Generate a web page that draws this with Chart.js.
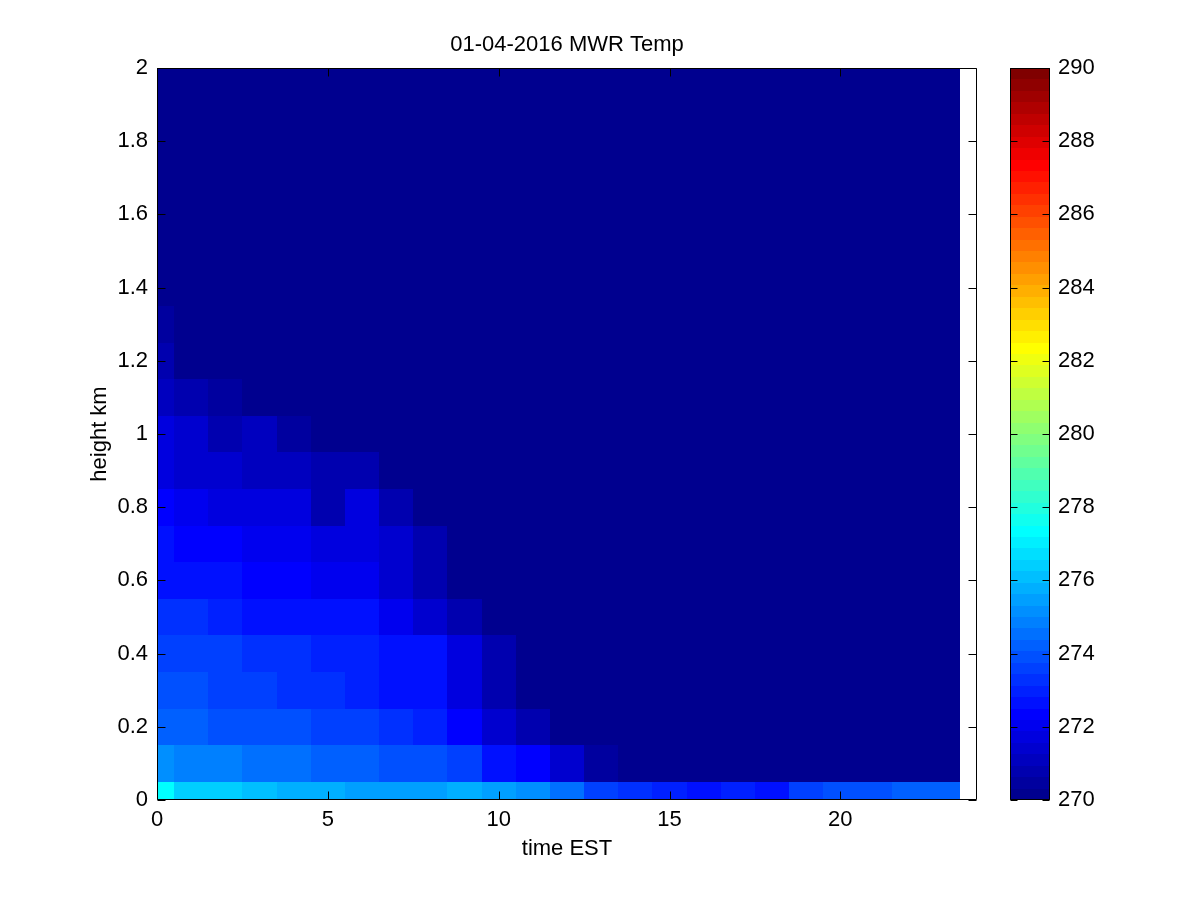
<!DOCTYPE html>
<html>
<head>
<meta charset="utf-8">
<script src="https://cdn.jsdelivr.net/npm/chart.js@4.4.0/dist/chart.umd.min.js"></script>
<style>
  body { margin: 0; background: #fff; }
  #wrap { position: relative; width: 1200px; height: 900px; }
  #main { position: absolute; left: 0; top: 0; }
  #cbar { position: absolute; left: 1000px; top: 0; }
</style>
</head>
<body>
<div id="wrap">
  <canvas id="main" width="1000" height="900"></canvas>
  <canvas id="cbar" width="200" height="900"></canvas>
</div>
<script>
// hour of day (EST), cell centres
const times = [0, 1, 2, 3, 4, 5, 6, 7, 8, 9, 10, 11, 12, 13, 14, 15, 16, 17, 18, 19, 20, 21, 22, 23];
// height above ground (km), cell centres
const heights = [0, 0.1, 0.2, 0.3, 0.4, 0.5, 0.6, 0.7, 0.8, 0.9, 1.0,
                 1.1, 1.2, 1.3, 1.4, 1.5, 1.6, 1.7, 1.8, 1.9, 2.0];
// temperature (K), one row per height, one column per hour
const temps = [
  [277.3, 276.5, 276.4, 276.1, 275.9, 275.7, 275.5, 275.4, 275.5, 275.9, 275.4, 275.0, 274.5, 273.6, 273.4, 273.0, 272.7, 273.0, 272.7, 273.7, 273.9, 274.0, 274.1, 274.2],
  [275.0, 274.9, 274.7, 274.6, 274.5, 274.3, 274.3, 273.9, 273.8, 273.6, 272.8, 272.2, 271.5, 270.5, 269.8, 269.8, 269.8, 269.8, 269.8, 269.8, 269.8, 269.8, 269.8, 269.8],
  [274.1, 274.1, 273.9, 273.8, 273.8, 273.7, 273.5, 273.2, 272.9, 272.3, 271.5, 270.7, 269.6, 269.6, 269.6, 269.6, 269.6, 269.6, 269.6, 269.6, 269.6, 269.6, 269.6, 269.6],
  [273.8, 273.8, 273.7, 273.5, 273.3, 273.3, 273.1, 272.8, 272.5, 271.8, 270.8, 270.2, 269.4, 269.4, 269.4, 269.4, 269.4, 269.4, 269.4, 269.4, 269.4, 269.4, 269.4, 269.4],
  [273.7, 273.6, 273.6, 273.4, 273.4, 273.1, 273.1, 272.7, 272.5, 271.7, 270.7, 269.2, 269.2, 269.2, 269.2, 269.2, 269.2, 269.2, 269.2, 269.2, 269.2, 269.2, 269.2, 269.2],
  [273.3, 273.3, 273.0, 272.7, 272.7, 272.7, 272.5, 272.1, 271.5, 270.7, 270.1, 269.0, 269.0, 269.0, 269.0, 269.0, 269.0, 269.0, 269.0, 269.0, 269.0, 269.0, 269.0, 269.0],
  [272.7, 272.6, 272.5, 272.4, 272.2, 272.1, 271.9, 271.3, 270.9, 268.8, 268.8, 268.8, 268.8, 268.8, 268.8, 268.8, 268.8, 268.8, 268.8, 268.8, 268.8, 268.8, 268.8, 268.8],
  [272.5, 272.2, 272.2, 272.1, 271.9, 271.8, 271.7, 271.3, 270.8, 268.6, 268.6, 268.6, 268.6, 268.6, 268.6, 268.6, 268.6, 268.6, 268.6, 268.6, 268.6, 268.6, 268.6, 268.6],
  [272.2, 271.9, 271.8, 271.8, 271.7, 270.8, 271.6, 270.8, 270.2, 268.4, 268.4, 268.4, 268.4, 268.4, 268.4, 268.4, 268.4, 268.4, 268.4, 268.4, 268.4, 268.4, 268.4, 268.4],
  [271.7, 271.5, 271.4, 271.1, 271.1, 270.7, 270.7, 270.2, 268.1, 268.1, 268.1, 268.1, 268.1, 268.1, 268.1, 268.1, 268.1, 268.1, 268.1, 268.1, 268.1, 268.1, 268.1, 268.1],
  [271.7, 271.5, 270.9, 271.0, 270.6, 267.8, 267.8, 267.8, 267.8, 267.8, 267.8, 267.8, 267.8, 267.8, 267.8, 267.8, 267.8, 267.8, 267.8, 267.8, 267.8, 267.8, 267.8, 267.8],
  [271.2, 270.7, 270.6, 267.5, 267.5, 267.5, 267.5, 267.5, 267.5, 267.5, 267.5, 267.5, 267.5, 267.5, 267.5, 267.5, 267.5, 267.5, 267.5, 267.5, 267.5, 267.5, 267.5, 267.5],
  [270.7, 270.3, 270.3, 267.2, 267.2, 267.2, 267.2, 267.2, 267.2, 267.2, 267.2, 267.2, 267.2, 267.2, 267.2, 267.2, 267.2, 267.2, 267.2, 267.2, 267.2, 267.2, 267.2, 267.2],
  [270.4, 266.9, 266.9, 266.9, 266.9, 266.9, 266.9, 266.9, 266.9, 266.9, 266.9, 266.9, 266.9, 266.9, 266.9, 266.9, 266.9, 266.9, 266.9, 266.9, 266.9, 266.9, 266.9, 266.9],
  [266.5, 266.5, 266.5, 266.5, 266.5, 266.5, 266.5, 266.5, 266.5, 266.5, 266.5, 266.5, 266.5, 266.5, 266.5, 266.5, 266.5, 266.5, 266.5, 266.5, 266.5, 266.5, 266.5, 266.5],
  [266.1, 266.1, 266.1, 266.1, 266.1, 266.1, 266.1, 266.1, 266.1, 266.1, 266.1, 266.1, 266.1, 266.1, 266.1, 266.1, 266.1, 266.1, 266.1, 266.1, 266.1, 266.1, 266.1, 266.1],
  [265.7, 265.7, 265.7, 265.7, 265.7, 265.7, 265.7, 265.7, 265.7, 265.7, 265.7, 265.7, 265.7, 265.7, 265.7, 265.7, 265.7, 265.7, 265.7, 265.7, 265.7, 265.7, 265.7, 265.7],
  [265.3, 265.3, 265.3, 265.3, 265.3, 265.3, 265.3, 265.3, 265.3, 265.3, 265.3, 265.3, 265.3, 265.3, 265.3, 265.3, 265.3, 265.3, 265.3, 265.3, 265.3, 265.3, 265.3, 265.3],
  [264.9, 264.9, 264.9, 264.9, 264.9, 264.9, 264.9, 264.9, 264.9, 264.9, 264.9, 264.9, 264.9, 264.9, 264.9, 264.9, 264.9, 264.9, 264.9, 264.9, 264.9, 264.9, 264.9, 264.9],
  [264.5, 264.5, 264.5, 264.5, 264.5, 264.5, 264.5, 264.5, 264.5, 264.5, 264.5, 264.5, 264.5, 264.5, 264.5, 264.5, 264.5, 264.5, 264.5, 264.5, 264.5, 264.5, 264.5, 264.5],
  [264.1, 264.1, 264.1, 264.1, 264.1, 264.1, 264.1, 264.1, 264.1, 264.1, 264.1, 264.1, 264.1, 264.1, 264.1, 264.1, 264.1, 264.1, 264.1, 264.1, 264.1, 264.1, 264.1, 264.1]
];
const colorLimits = [270, 290];
const nColors = 64;

const FONT = { family: "'Liberation Sans', Arial, sans-serif", size: 22, weight: 'normal' };

// MATLAB jet(64), index 1..64
function jetRGB(i) {
  let r, g, b;
  if (i <= 8) { r = 0; g = 0; b = (i + 8) / 16; }
  else if (i <= 24) { r = 0; g = (i - 8) / 16; b = 1; }
  else if (i <= 40) { r = (i - 24) / 16; g = 1; b = 1 - (i - 24) / 16; }
  else if (i <= 56) { r = 1; g = 1 - (i - 40) / 16; b = 0; }
  else { r = 1 - (i - 56) / 16; g = 0; b = 0; }
  return `rgb(${Math.round(r * 255)},${Math.round(g * 255)},${Math.round(b * 255)})`;
}
function colorFor(v) {
  const [lo, hi] = colorLimits;
  let i = Math.floor((v - lo) / (hi - lo) * nColors) + 1;
  return jetRGB(Math.min(nColors, Math.max(1, i)));
}

const cells = heights.flatMap((h, j) => times.map((t, i) => ({ x: t, y: h, v: temps[j][i] })));

// pcolor-like cells, edges half way between centres
const heatmap = {
  id: 'heatmap',
  beforeDatasetsDraw(chart) {
    const { ctx, scales: { x, y } } = chart;
    const dt = (times[1] - times[0]) / 2, dh = (heights[1] - heights[0]) / 2;
    const tMin = times[0], hMin = heights[0], hMax = heights[heights.length - 1];
    ctx.save();
    chart.data.datasets[0].data.forEach(c => {
      const x0 = Math.round(x.getPixelForValue(Math.max(c.x - dt, tMin)));
      const x1 = Math.round(x.getPixelForValue(c.x + dt));
      const y0 = Math.round(y.getPixelForValue(Math.max(c.y - dh, hMin)));
      const y1 = Math.round(y.getPixelForValue(Math.min(c.y + dh, hMax)));
      ctx.fillStyle = colorFor(c.v);
      ctx.fillRect(x0, y1, x1 - x0, y0 - y1);
    });
    ctx.restore();
  }
};

// colour bar bands
const colorBands = {
  id: 'colorBands',
  beforeDatasetsDraw(chart) {
    const { ctx, chartArea: a, scales: { y } } = chart;
    const [lo, hi] = colorLimits;
    const step = (hi - lo) / nColors;
    ctx.save();
    for (let k = 1; k <= nColors; k++) {
      const y0 = Math.round(y.getPixelForValue(lo + (k - 1) * step));
      const y1 = Math.round(y.getPixelForValue(lo + k * step));
      ctx.fillStyle = jetRGB(k);
      ctx.fillRect(a.left, y1, a.right - a.left, y0 - y1);
    }
    ctx.restore();
  }
};

// boxed axes with inward ticks, MATLAB style
const boxAxes = {
  id: 'boxAxes',
  afterDraw(chart, args, opts) {
    const { ctx, chartArea: a, scales } = chart;
    const L = Math.round(a.left) + 0.5, R = Math.round(a.right) - 0.5;
    const T = Math.round(a.top) + 0.5, B = Math.round(a.bottom) - 0.5;
    const len = opts.len;
    ctx.save();
    ctx.strokeStyle = '#000';
    ctx.lineWidth = 1;
    ctx.beginPath();
    if (opts.x) {
      scales.x.ticks.forEach(t => {
        const px = Math.round(scales.x.getPixelForValue(t.value)) + 0.5;
        ctx.moveTo(px, B); ctx.lineTo(px, B - len);
        ctx.moveTo(px, T); ctx.lineTo(px, T + len);
      });
    }
    scales.y.ticks.forEach(t => {
      const py = Math.round(scales.y.getPixelForValue(t.value)) + 0.5;
      ctx.moveTo(L, py); ctx.lineTo(L + len, py);
      ctx.moveTo(R, py); ctx.lineTo(R - len, py);
    });
    ctx.rect(L, T, R - L, B - T);
    ctx.stroke();
    ctx.restore();
  }
};

const noGrid = { display: false, drawTicks: false };

new Chart(document.getElementById('main'), {
  type: 'scatter',
  data: { datasets: [{ data: cells, pointRadius: 0, pointHoverRadius: 0 }] },
  options: {
    responsive: false,
    animation: false,
    events: [],
    layout: { padding: { left: 0, right: 23, top: 0, bottom: 0 } },
    plugins: {
      legend: { display: false },
      tooltip: { enabled: false },
      title: {
        display: true, fullSize: false, text: '01-04-2016 MWR Temp', color: '#000', font: FONT,
        padding: { top: 31.8, bottom: 9.8 }
      },
      boxAxes: { len: 8, x: true }
    },
    scales: {
      x: {
        type: 'linear', min: 0, max: 24,
        grid: noGrid, border: { display: false },
        ticks: { stepSize: 5, includeBounds: false, color: '#000', font: FONT, padding: 7, maxRotation: 0 },
        title: { display: true, text: 'time EST', color: '#000', font: FONT, padding: { top: 0, bottom: 37.8 } },
        afterFit: s => { s.height = 100; }
      },
      y: {
        type: 'linear', min: 0, max: 2,
        grid: noGrid, border: { display: false },
        ticks: { stepSize: 0.2, color: '#000', font: FONT, padding: 9, callback: v => String(+v.toFixed(1)) },
        title: { display: true, text: 'height km', color: '#000', font: FONT, padding: { top: 87, bottom: 0 } },
        afterFit: s => { s.width = 157; }
      }
    }
  },
  plugins: [heatmap, boxAxes]
});

new Chart(document.getElementById('cbar'), {
  type: 'scatter',
  data: { datasets: [{ data: [], pointRadius: 0 }] },
  options: {
    responsive: false,
    animation: false,
    events: [],
    layout: { padding: { left: 10, right: 0, top: 68, bottom: 100 } },
    plugins: { legend: { display: false }, tooltip: { enabled: false }, boxAxes: { len: 7, x: false } },
    scales: {
      x: { type: 'linear', display: false, min: 0, max: 1 },
      y: {
        type: 'linear', position: 'right', min: colorLimits[0], max: colorLimits[1],
        grid: noGrid, border: { display: false },
        ticks: { stepSize: 2, color: '#000', font: FONT, padding: 8 },
        afterFit: s => { s.width = 150; s.paddingTop = 0; s.paddingBottom = 0; }
      }
    }
  },
  plugins: [colorBands, boxAxes]
});
</script>
</body>
</html>
